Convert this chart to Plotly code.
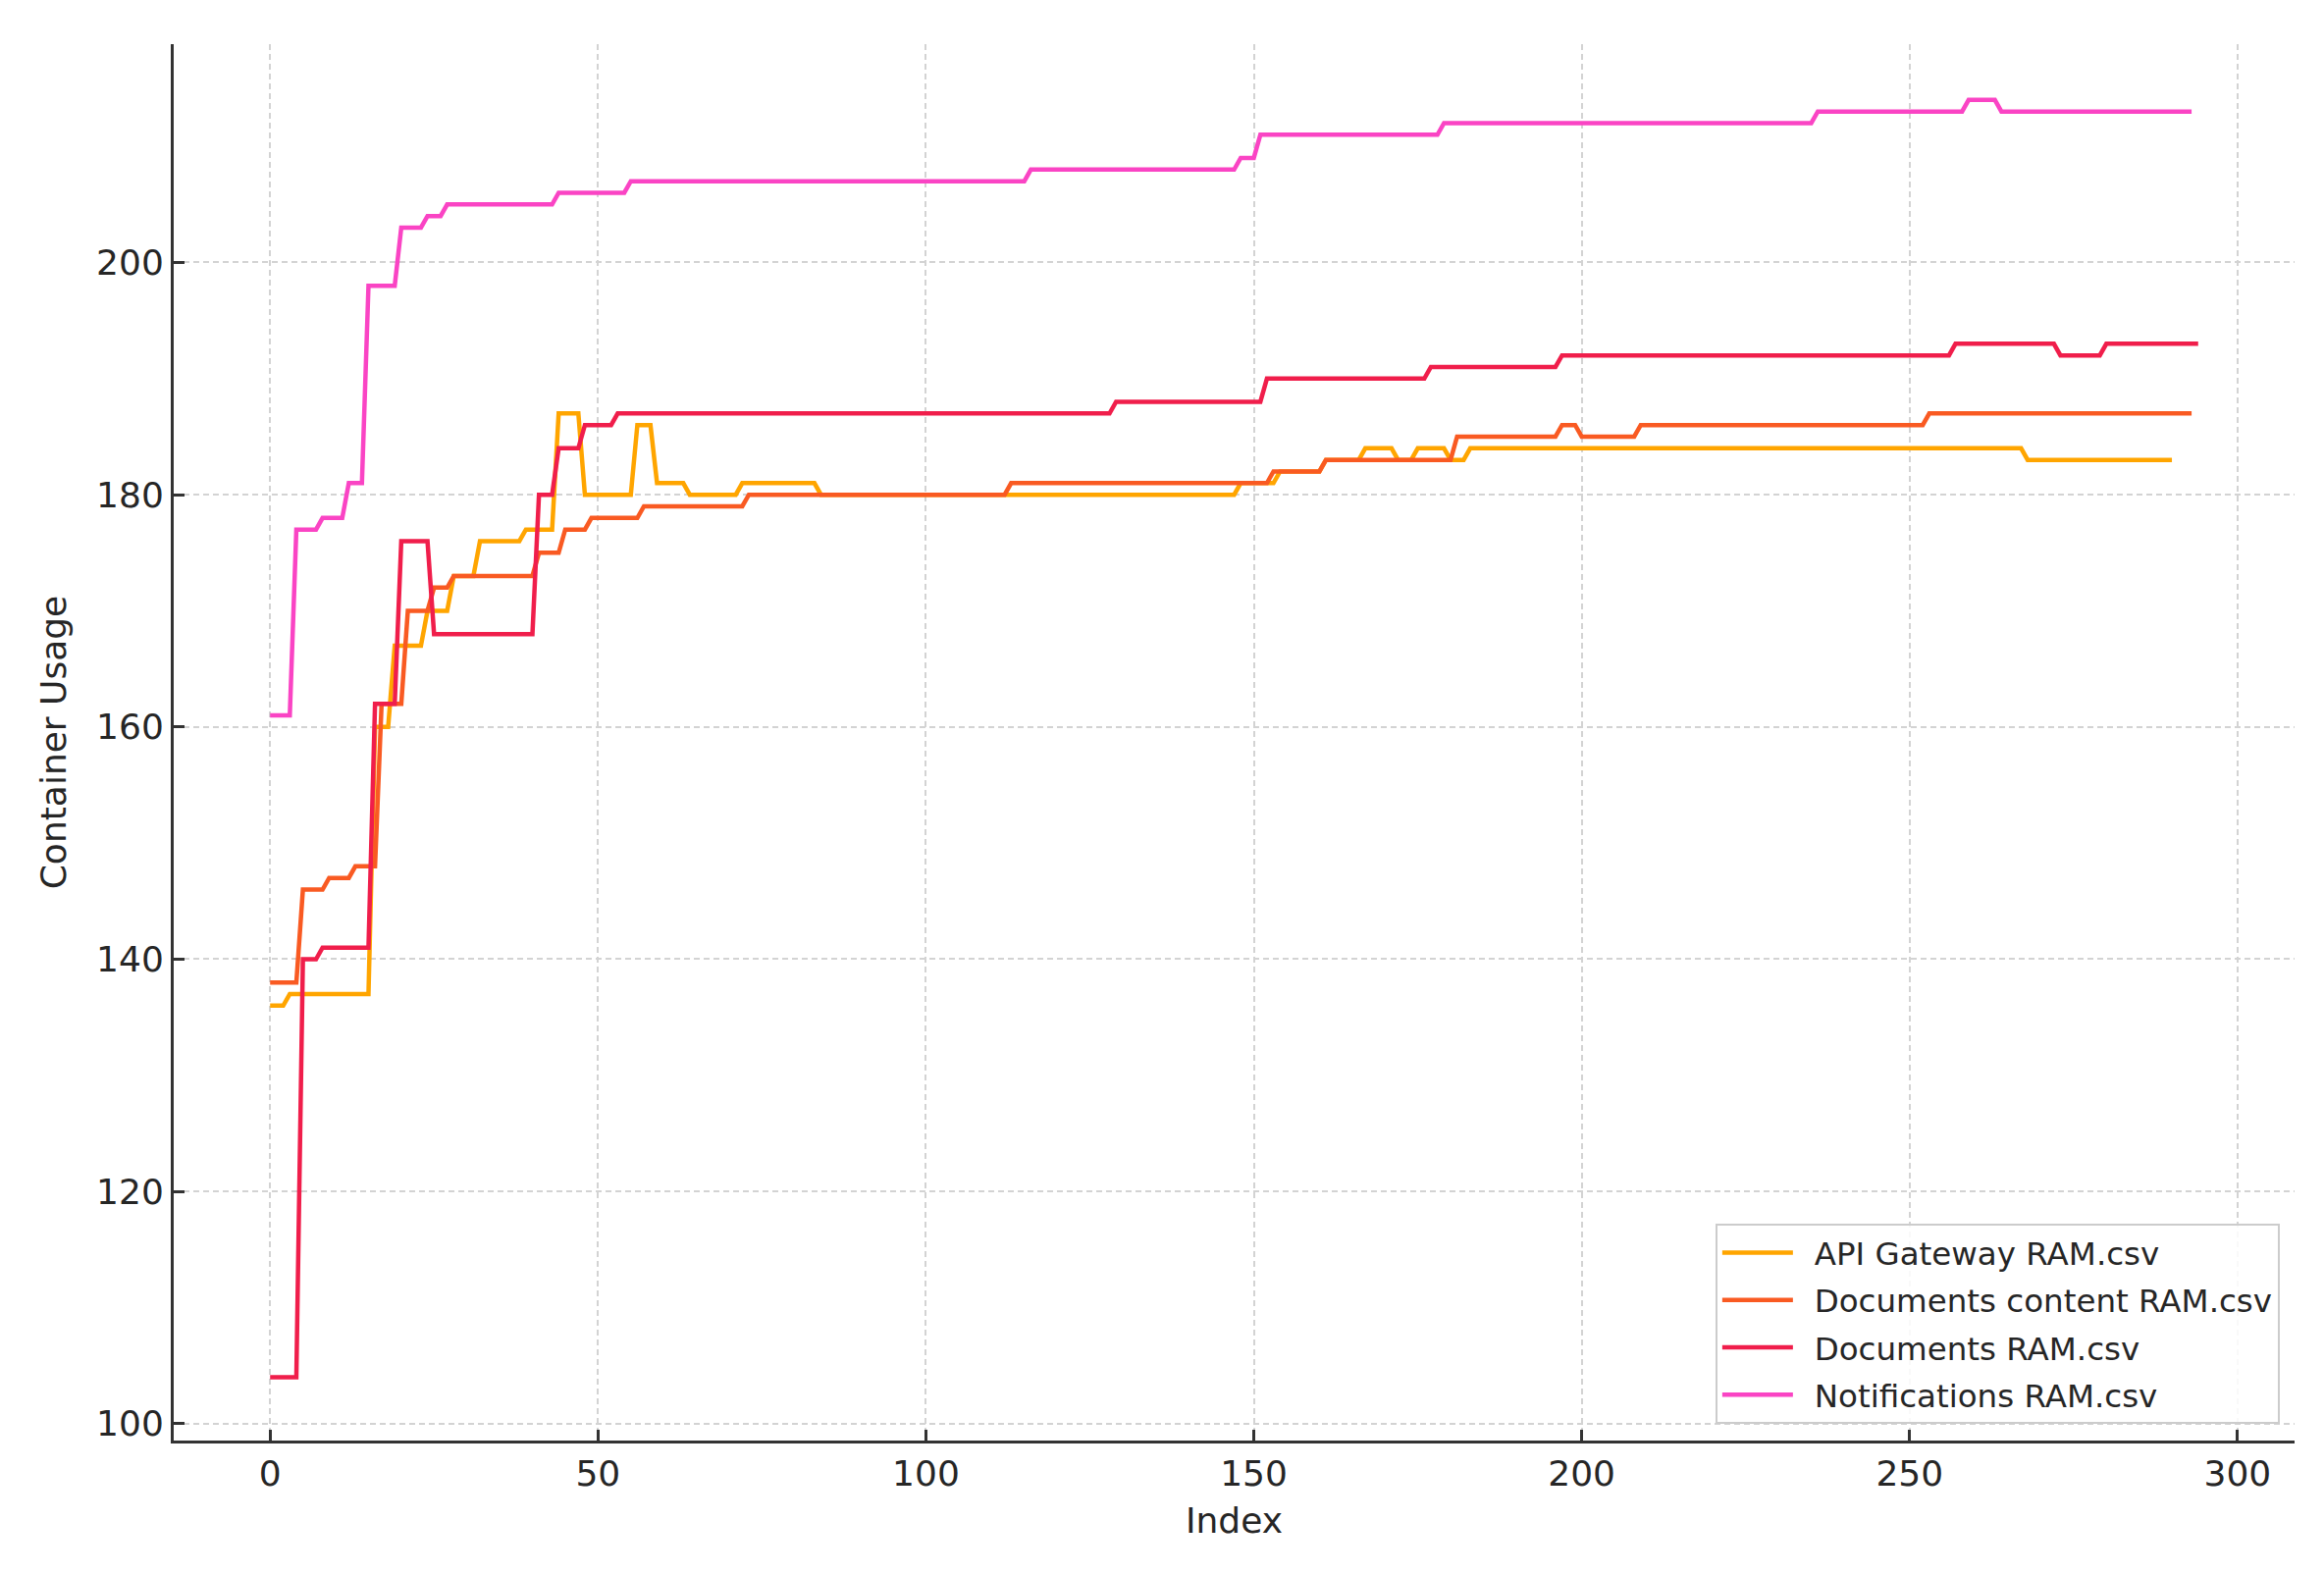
import plotly.graph_objects as go

# Series (vertices at the start and end of each plateau)
api_x = [0, 2, 3, 15, 16, 18, 19, 23, 24, 27, 28, 31, 32, 38, 39, 43, 44, 47, 48, 55,
         56, 58, 59, 63, 64, 71, 72, 83, 84, 147, 148, 153, 154, 160, 161, 166, 167, 171,
         172, 174, 175, 179, 180, 182, 183, 267, 268, 290]
api_y = [136, 136, 137, 137, 160, 160, 167, 167, 170, 170, 173, 173, 176, 176, 177, 177,
         187, 187, 180, 180, 186, 186, 181, 181, 180, 180, 181, 181, 180, 180, 181, 181,
         182, 182, 183, 183, 184, 184, 183, 183, 184, 184, 183, 183, 184, 184, 183, 183]

content_x = [0, 4, 5, 8, 9, 12, 13, 16, 17, 20, 21, 24, 25, 27, 28, 40, 41, 44, 45, 48,
             49, 56, 57, 72, 73, 112, 113, 152, 153, 160, 161, 180, 181, 196, 197, 199,
             200, 208, 209, 252, 253, 293]
content_y = [138, 138, 146, 146, 147, 147, 148, 148, 162, 162, 170, 170, 172, 172, 173, 173,
             175, 175, 177, 177, 178, 178, 179, 179, 180, 180, 181, 181, 182, 182, 183, 183,
             185, 185, 186, 186, 185, 185, 186, 186, 187, 187]

docs_x = [0, 4, 5, 7, 8, 15, 16, 19, 20, 24, 25, 40, 41, 43, 44, 47, 48, 52, 53, 128,
          129, 151, 152, 176, 177, 196, 197, 256, 257, 272, 273, 279, 280, 294]
docs_y = [104, 104, 140, 140, 141, 141, 162, 162, 176, 176, 168, 168, 180, 180, 184, 184,
          186, 186, 187, 187, 188, 188, 190, 190, 191, 191, 192, 192, 193, 193, 192, 192,
          193, 193]

notif_x = [0, 3, 4, 7, 8, 11, 12, 14, 15, 19, 20, 23, 24, 26, 27, 43, 44, 54, 55, 115,
           116, 147, 148, 150, 151, 178, 179, 235, 236, 258, 259, 263, 264, 293]
notif_y = [161, 161, 177, 177, 178, 178, 181, 181, 198, 198, 203, 203, 204, 204, 205, 205,
           206, 206, 207, 207, 208, 208, 209, 209, 211, 211, 212, 212, 213, 213, 214, 214,
           213, 213]

names = ["API Gateway RAM.csv", "Documents content RAM.csv", "Documents RAM.csv",
         "Notifications RAM.csv"]
colors = ["#FFA500", "#F95A22", "#F01E4B", "#FA44C4"]

x_ticks = [0, 50, 100, 150, 200, 250, 300]
y_ticks = [100, 120, 140, 160, 180, 200]

fig = go.Figure()
for i, (xs, ys, nm, c) in enumerate(zip([api_x, content_x, docs_x, notif_x],
                                        [api_y, content_y, docs_y, notif_y], names, colors)):
    fig.add_trace(go.Scatter(x=xs, y=ys, mode="lines", name="\u00a0\u2009" + nm,
                             legendgroup=f"g{i}",
                             line=dict(color=c, width=4.5)))

font_family = "DejaVu Sans"
axis_common = dict(
    showline=True, linecolor="#333333", linewidth=3, mirror=False,
    ticks="inside", ticklen=11, tickwidth=2.5, tickcolor="#333333",
    showgrid=True, gridcolor="#d3d3d3", gridwidth=1.5, griddash="6px,4px",
    zeroline=False, automargin=False,
    tickfont=dict(family=font_family, size=36, color="#262626"),
)

fig.update_layout(
    width=2368, height=1604,
    paper_bgcolor="white", plot_bgcolor="white",
    margin=dict(l=169, r=38, t=37, b=144),
    font=dict(family=font_family, color="#262626"),
    xaxis=dict(range=[-14.7, 308.7], tickvals=x_ticks,
               title=dict(text="Index", font=dict(size=36, family=font_family), standoff=16),
               **axis_common),
    yaxis=dict(range=[98.55, 218.8], tickvals=y_ticks,
               title=dict(text="Container Usage", font=dict(size=36, family=font_family), standoff=20),
               **axis_common),
    legend=dict(
        x=0.993, y=0.012, xanchor="right", yanchor="bottom",
        bgcolor="rgba(255,255,255,0.85)", bordercolor="#cccccc", borderwidth=2,
        font=dict(family=font_family, size=32.5, color="#262626"),
        itemwidth=72, tracegroupgap=3,
    ),
    showlegend=True,
)

fig.write_html("out.html")
